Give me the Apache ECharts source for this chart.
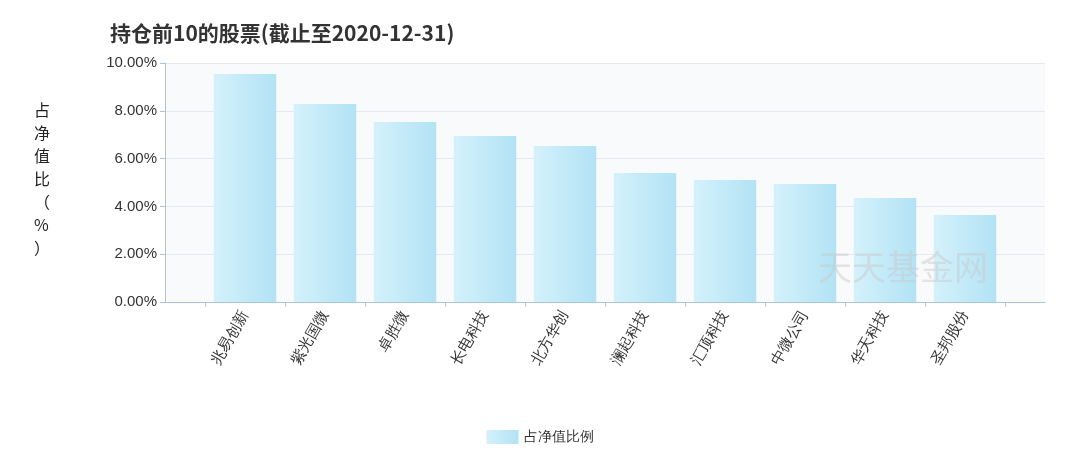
<!DOCTYPE html>
<html><head><meta charset="utf-8">
<script src="https://cdn.jsdelivr.net/npm/echarts@6/dist/echarts.min.js"></script>
<style>html,body{margin:0;padding:0;background:#fff}#c{width:1080px;height:467px}</style>
</head><body><div id="c"></div>
<script>
const categories = ['兆易创新','紫光国微','卓胜微','长电科技','北方华创','澜起科技','汇顶科技','中微公司','华天科技','圣邦股份'];
const values = [9.54, 8.28, 7.53, 6.95, 6.53, 5.40, 5.10, 4.94, 4.35, 3.64];
const chart = echarts.init(document.getElementById('c'));
const axisCol = '#a9c4dc';
chart.setOption({
  animation: false,
  title: { text: '持仓前10的股票(截止至2020-12-31)', left: 105, top: 18,
    textStyle: { fontSize: 21, fontWeight: 'bold', color: '#333', fontFamily: 'Noto Sans CJK SC' } },
  graphic: [
    { type: 'text', left: 818, top: 250, z: 100, style: { text: '天天基金网', fontSize: 34, fill: 'rgba(200,200,200,0.45)', fontFamily: 'Noto Sans CJK SC' } },
    { type: 'text', left: 34, top: 98, style: { text: '占\n净\n值\n比\n（\n%\n）', fontSize: 16, lineHeight: 23, fill: '#222', fontFamily: 'Noto Sans CJK SC' } }
  ],
  legend: { bottom: 18, left: 'center', itemWidth: 32, itemHeight: 14, icon: 'rect',
    textStyle: { fontSize: 14, color: '#333' }, data: ['占净值比例'] },
  grid: [
    { left: 165, right: 35, top: 63, bottom: 165, backgroundColor: '#f9fafc', show: true, borderWidth: 0 },
    { left: 205, right: 75, top: 63, bottom: 165 }
  ],
  xAxis: [
    { type: 'category', gridIndex: 0, data: [''], axisLine: { lineStyle: { color: axisCol } },
      axisTick: { show: false }, axisLabel: { show: false } },
    { type: 'category', gridIndex: 1, data: categories,
      axisLine: { show: false }, axisTick: { show: true, lineStyle: { color: axisCol } },
      axisLabel: { rotate: 60, fontSize: 15, color: '#333', margin: 10 } }
  ],
  yAxis: [
    { type: 'value', gridIndex: 0, min: 0, max: 10, interval: 2,
      axisLabel: { formatter: v => v.toFixed(2) + '%', fontSize: 15, color: '#333' },
      axisLine: { show: true, lineStyle: { color: axisCol } }, axisTick: { show: true, lineStyle: { color: axisCol } },
      splitLine: { lineStyle: { color: '#e6e9ef' } } },
    { type: 'value', gridIndex: 1, min: 0, max: 10, show: false }
  ],
  series: [{ name: '占净值比例', type: 'bar', xAxisIndex: 1, yAxisIndex: 1, data: values, barWidth: '78%',
    itemStyle: { color: new echarts.graphic.LinearGradient(0,0,1,0,[{offset:0,color:'#d4f1fb'},{offset:1,color:'#b2e3f5'}]) } }]
});
</script></body></html>
